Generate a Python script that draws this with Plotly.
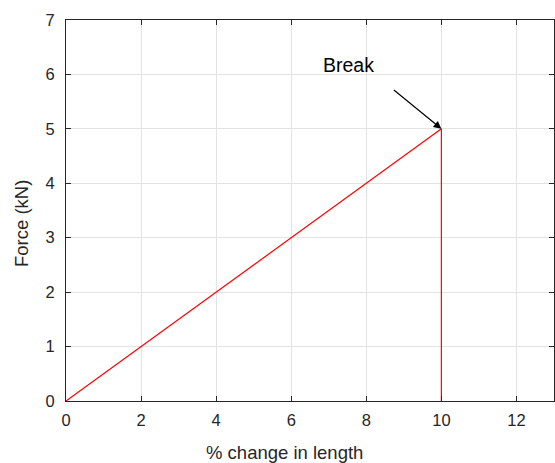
import plotly.graph_objects as go

x_vals = [0, 10, 10]
y_vals = [0, 5, 0]
x_ticks = [0, 2, 4, 6, 8, 10, 12]
y_ticks = [0, 1, 2, 3, 4, 5, 6, 7]
break_point = (10, 5)
break_label = "Break"
x_title = "% change in length"
y_title = "Force (kN)"

FONT = "Liberation Sans, Arial"
TXT = "#262626"
W, H = 555, 463
L, R, T, B = 66, 1, 20, 62
PW, PH = W - L - R, H - T - B

fig = go.Figure()
fig.add_trace(go.Scatter(x=x_vals, y=y_vals, mode="lines",
                         line=dict(color="#ff0000", width=1.2), showlegend=False))

axis_common = dict(showline=True, linecolor=TXT, linewidth=1, mirror="ticks",
                   ticks="inside", ticklen=5, tickcolor=TXT,
                   showgrid=True, gridcolor="#e3e3e3", gridwidth=1, zeroline=False,
                   tickfont=dict(family=FONT, size=16.5, color=TXT))

fig.update_xaxes(range=[0, 13], tickvals=x_ticks, ticklabelstandoff=4, **axis_common)
fig.update_yaxes(range=[0, 7], tickvals=y_ticks, ticklabelstandoff=7, **axis_common)

# axis titles placed as paper annotations
fig.add_annotation(xref="paper", yref="paper", x=(284 - L) / PW, y=(H - B - 452) / PH,
                   text=x_title, showarrow=False, xanchor="center", yanchor="middle",
                   font=dict(family=FONT, size=18.5, color=TXT))
fig.add_annotation(xref="paper", yref="paper", x=(22 - L) / PW, y=(H - B - 224) / PH,
                   text=y_title, showarrow=False, textangle=-90, xanchor="center", yanchor="middle",
                   font=dict(family=FONT, size=18.5, color=TXT))

fig.add_annotation(x=break_point[0], y=break_point[1], ax=-49, ay=-40, text="",
                   showarrow=True, arrowhead=2, arrowsize=1.3, arrowwidth=1.2,
                   arrowcolor="#000000")
fig.add_annotation(x=break_point[0], y=break_point[1], ax=-93, ay=-64, text=break_label,
                   showarrow=True, arrowcolor="rgba(0,0,0,0)", arrowwidth=0.1,
                   font=dict(family=FONT, size=19.5, color="#000000"))

fig.update_layout(width=W, height=H,
                  margin=dict(l=L, r=R, t=T, b=B, autoexpand=False),
                  plot_bgcolor="white", paper_bgcolor="white")

fig.write_html("out.html", config={"displayModeBar": False},
               post_script="document.body.style.margin='0';")
